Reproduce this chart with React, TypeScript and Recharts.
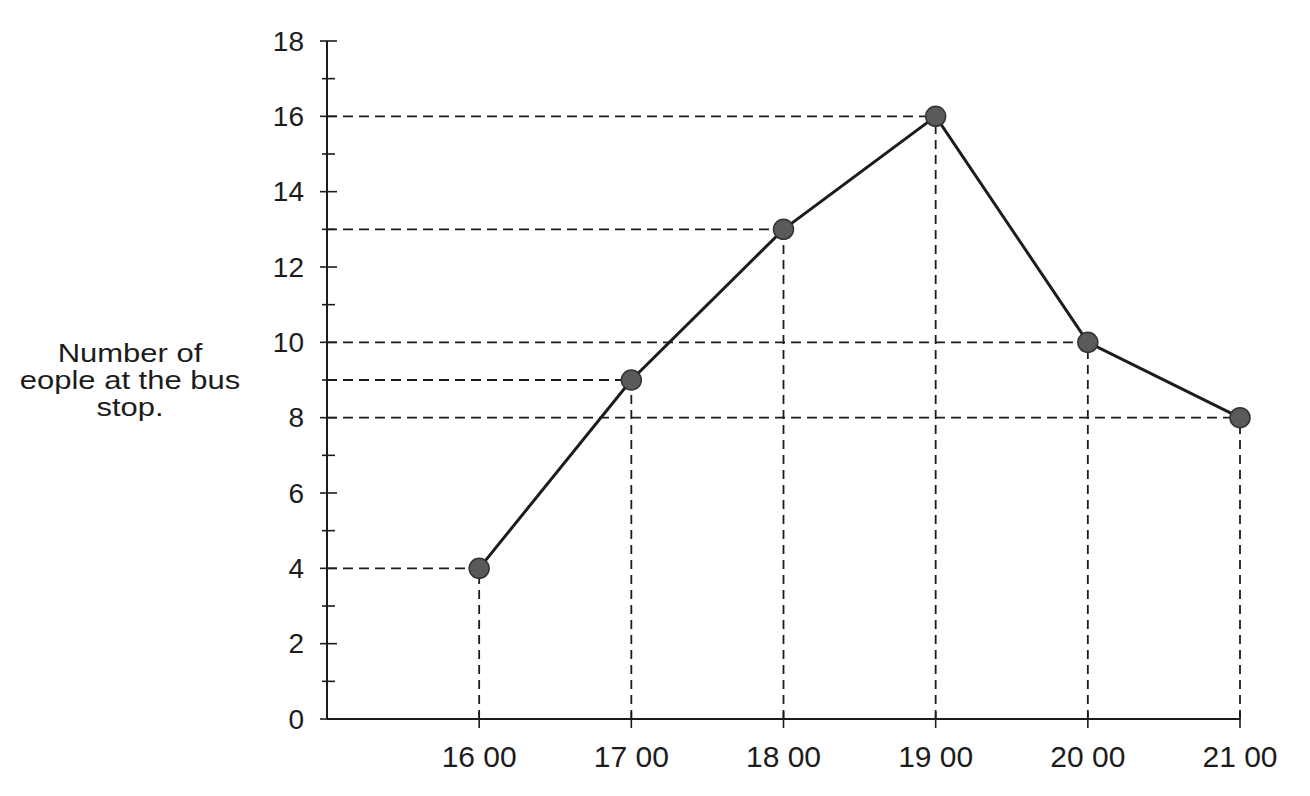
import React from 'react';
import { LineChart, Line, XAxis, YAxis, ReferenceLine } from 'recharts';

// hours on the x axis, people counted at each hour
const hours = [16, 17, 18, 19, 20, 21];
const people = [4, 9, 13, 16, 10, 8];
const hourLabels = ['16 00', '17 00', '18 00', '19 00', '20 00', '21 00'];
const yTicks = [0, 1, 2, 3, 4, 5, 6, 7, 8, 9, 10, 11, 12, 13, 14, 15, 16, 17, 18];
const yLabelLines = ['Number of', 'eople at the bus', 'stop.'];

const data = hours.map((h, i) => ({ hour: h, count: people[i] }));

const FONT = '"Liberation Sans", Arial, sans-serif';
const INK = '#1c1c1c';

const YTick = ({ x, y, payload }: any) => {
  const v = payload.value;
  const major = v % 2 === 0;
  return (
    <g>
      <line
        x1={x - (major ? 7 : 5)}
        x2={x + (major ? 10 : 8)}
        y1={y}
        y2={y}
        stroke={INK}
        strokeWidth={1.6}
      />
      {major && (
        <text
          x={x - 23}
          y={y}
          textAnchor="end"
          dominantBaseline="central"
          fontSize={28}
          fontFamily={FONT}
          fill={INK}
        >
          {v}
        </text>
      )}
    </g>
  );
};

const XTick = ({ x, y, payload }: any) => {
  const idx = hours.indexOf(payload.value);
  return (
    <g>
      <line x1={x} x2={x} y1={y - 7} y2={y + 9} stroke={INK} strokeWidth={1.6} />
      <text
        x={x}
        y={y + 48}
        textAnchor="middle"
        fontSize={30}
        fontFamily={FONT}
        fill={INK}
      >
        {idx >= 0 ? hourLabels[idx] : ''}
      </text>
    </g>
  );
};

const Dot = ({ cx, cy }: any) => (
  <circle cx={cx} cy={cy} r={10} fill="#5a5a5a" stroke="#333" strokeWidth={1.5} />
);

export default function App() {
  return (
    <div style={{ position: 'absolute', left: 0, top: 0, width: 1310, height: 796, background: '#fff' }}>
      <LineChart
        width={1310}
        height={796}
        data={data}
        margin={{ top: 41, right: 70, bottom: 47, left: 267 }}
      >
        <XAxis
          dataKey="hour"
          type="number"
          domain={[15, 21]}
          ticks={hours}
          height={30}
          tickSize={0}
          tickMargin={0}
          tickLine={false}
          axisLine={{ stroke: INK, strokeWidth: 2 }}
          tick={<XTick />}
          interval={0}
        />
        <YAxis
          type="number"
          domain={[0, 18]}
          ticks={yTicks}
          width={60}
          tickSize={0}
          tickMargin={0}
          tickLine={false}
          axisLine={{ stroke: INK, strokeWidth: 2 }}
          tick={<YTick />}
          interval={0}
        />
        {data.map((d) => (
          <ReferenceLine
            key={`h-${d.hour}`}
            segment={[{ x: 15, y: d.count }, { x: d.hour, y: d.count }]}
            stroke={INK}
            strokeWidth={1.8}
            strokeDasharray="10 6"
          />
        ))}
        {data.map((d) => (
          <ReferenceLine
            key={`v-${d.hour}`}
            segment={[{ x: d.hour, y: 0 }, { x: d.hour, y: d.count }]}
            stroke={INK}
            strokeWidth={1.8}
            strokeDasharray="9 6"
          />
        ))}
        <Line
          type="linear"
          dataKey="count"
          stroke={INK}
          strokeWidth={3}
          dot={<Dot />}
          activeDot={false}
          isAnimationActive={false}
        />
      </LineChart>
      <svg
        width={300}
        height={120}
        style={{ position: 'absolute', left: 0, top: 320 }}
      >
        {yLabelLines.map((t, i) => (
          <g key={t} transform={`translate(130, ${42 + i * 27}) scale(1.24, 1)`}>
            <text textAnchor="middle" fontSize={25} fontFamily={FONT} fill={INK}>
              {t}
            </text>
          </g>
        ))}
      </svg>
    </div>
  );
}
